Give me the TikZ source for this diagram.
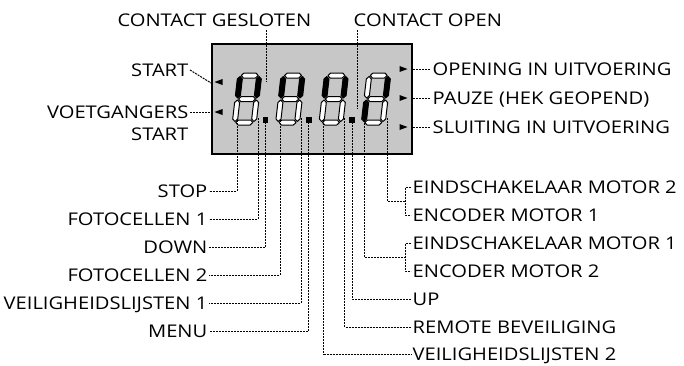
\documentclass[tikz,border=0pt]{standalone}
\usepackage{fontspec}
\setmainfont[FakeStretch=1.15]{Open Sans}
\usepackage{tikz}
\usetikzlibrary{positioning}

\begin{document}
\begin{tikzpicture}[x=1pt, y=-1pt, every node/.style={font=\fontsize{17.5}{20}\selectfont}]
    \tikzset{lbl/.style={inner sep=0pt, inner xsep=1.5pt, text height=12.5pt, text depth=0pt},
             lead/.style={line width=1pt, dash pattern=on 2pt off 1pt},
             seg/.style={draw, line width=1pt, line join=round}}
    \useasboundingbox (0,0) rectangle (684,365);
    \node[draw, line width=2.4pt, fill=black!22, minimum width=200pt, minimum height=110pt,
          inner sep=0pt, anchor=north west] (disp) at (211,43) {};
    % the four digits
    \foreach \dx/\fa/\fb/\fc/\fd/\fe/\ff/\fg in {238/white/black/white/white/white/black/white,
        281.3/white/black/white/white/white/black/white,
        324.7/white/black/white/white/white/black/white,
        367/white/black/white/white/black/white/white}{
      \begin{scope}[shift={(\dx,73)}, xslant=0.115]
        \draw[seg, fill=\fa] (3.5,2.5)--(6,0)--(18,0)--(20.5,2.5)--(18,5)--(6,5)--cycle;
        \draw[seg, fill=\fg] (3.5,26)--(6,23.5)--(18,23.5)--(20.5,26)--(18,28.5)--(6,28.5)--cycle;
        \draw[seg, fill=\fd] (3.5,49.5)--(6,47)--(18,47)--(20.5,49.5)--(18,52)--(6,52)--cycle;
        \draw[seg, fill=\ff] (2.5,3.5)--(5,6)--(5,22.5)--(2.5,25)--(0,22.5)--(0,6)--cycle;
        \draw[seg, fill=\fb] (21.5,3.5)--(24,6)--(24,22.5)--(21.5,25)--(19,22.5)--(19,6)--cycle;
        \draw[seg, fill=\fe] (2.5,27)--(5,29.5)--(5,46)--(2.5,48.5)--(0,46)--(0,29.5)--cycle;
        \draw[seg, fill=\fc] (21.5,27)--(24,29.5)--(24,46)--(21.5,48.5)--(19,46)--(19,29.5)--cycle;
      \end{scope}}
    \foreach \dx in {265.5,308.8,352.2}
      \fill (\dx-2.8,117) rectangle ++(5.6,5.6);
    % arrow marks
    \foreach \ty in {82,112}
      \fill (214.5,\ty) -- ++(8,-3) -- ++(0,6) -- cycle;
    \foreach \ty in {69,98,127}
      \fill (407.5,\ty) -- ++(-8,-3) -- ++(0,6) -- cycle;

    % labels
    \node[lbl, anchor=south east] (gesl) at (313,27) {CONTACT GESLOTEN};
    \node[lbl, anchor=south west] (copen) at (352,27) {CONTACT OPEN};
    \node[lbl, anchor=east] (start) at (190,70) {START};
    \node[lbl, anchor=east] (voet) at (190,112) {VOETGANGERS};
    \node[lbl, anchor=east] (voet2) at (190,134) {START};
    \node[lbl, anchor=west] (opening) at (431,69) {OPENING IN UITVOERING};
    \node[lbl, anchor=west] (pauze) at (431,98) {PAUZE (HEK GEOPEND)};
    \node[lbl, anchor=west] (sluit) at (431,127) {SLUITING IN UITVOERING};
    \node[lbl, anchor=east] (stop) at (209,191) {STOP};
    \node[lbl, anchor=east] (foto1) at (209,219) {FOTOCELLEN 1};
    \node[lbl, anchor=east] (down) at (209,247) {DOWN};
    \node[lbl, anchor=east] (foto2) at (209,275) {FOTOCELLEN 2};
    \node[lbl, anchor=east] (veil1) at (209,303) {VEILIGHEIDSLIJSTEN 1};
    \node[lbl, anchor=east] (menu) at (209,331) {MENU};
    \node[lbl, anchor=west] (eind2) at (411,187) {EINDSCHAKELAAR MOTOR 2};
    \node[lbl, anchor=west] (enc1) at (411,215) {ENCODER MOTOR 1};
    \node[lbl, anchor=west] (eind1) at (411,243) {EINDSCHAKELAAR MOTOR 1};
    \node[lbl, anchor=west] (enc2) at (411,271) {ENCODER MOTOR 2};
    \node[lbl, anchor=west] (up) at (411,299) {UP};
    \node[lbl, anchor=west] (remote) at (411,327) {REMOTE BEVEILIGING};
    \node[lbl, anchor=west] (veil2) at (411,354) {VEILIGHEIDSLIJSTEN 2};

    % segment ends
    \coordinate (cg) at (266.5,82);
    \coordinate (co) at (357,109);
    \coordinate (ms) at (211,83);
    \coordinate (s1) at (237,120);
    \coordinate (s2) at (258,118);
    \coordinate (s3) at (265.5,122);
    \coordinate (s4) at (280,120);
    \coordinate (s5) at (301,118);
    \coordinate (s6) at (308.8,122);
    \coordinate (s7) at (323.5,120);
    \coordinate (s8) at (344.5,118);
    \coordinate (s9) at (352.2,122);
    \coordinate (s10) at (364,120);
    \coordinate (s11) at (387,118);
    \coordinate (br2) at (405.5,201);
    \coordinate (br1) at (405.5,257);

    % leaders
    \draw[lead] ([yshift=-3pt]cg |- gesl.south) -- (cg);
    \draw[lead] ([yshift=-3pt]co |- copen.south) -- (co);
    \draw[lead] (start.east) -- (ms);
    \draw[lead] (voet.east) -- (disp.west |- voet.east);
    \draw[lead] (disp.east |- opening.west) -- (opening.west);
    \draw[lead] (disp.east |- pauze.west) -- (pauze.west);
    \draw[lead] (disp.east |- sluit.west) -- (sluit.west);
    \draw[lead] (s1) |- (stop.east);
    \draw[lead] (s2) |- (foto1.east);
    \draw[lead] (s3) |- (down.east);
    \draw[lead] (s4) |- (foto2.east);
    \draw[lead] (s5) |- (veil1.east);
    \draw[lead] (s6) |- (menu.east);
    \draw[lead] (s7) |- (veil2.west);
    \draw[lead] (s8) |- (remote.west);
    \draw[lead] (s9) |- (up.west);
    \draw[lead] (s11) |- (br2);
    \draw[lead] (eind2.west) -| (br2) |- (enc1.west);
    \draw[lead] (s10) |- (br1);
    \draw[lead] (eind1.west) -| (br1) |- (enc2.west);
\end{tikzpicture}
\end{document}
